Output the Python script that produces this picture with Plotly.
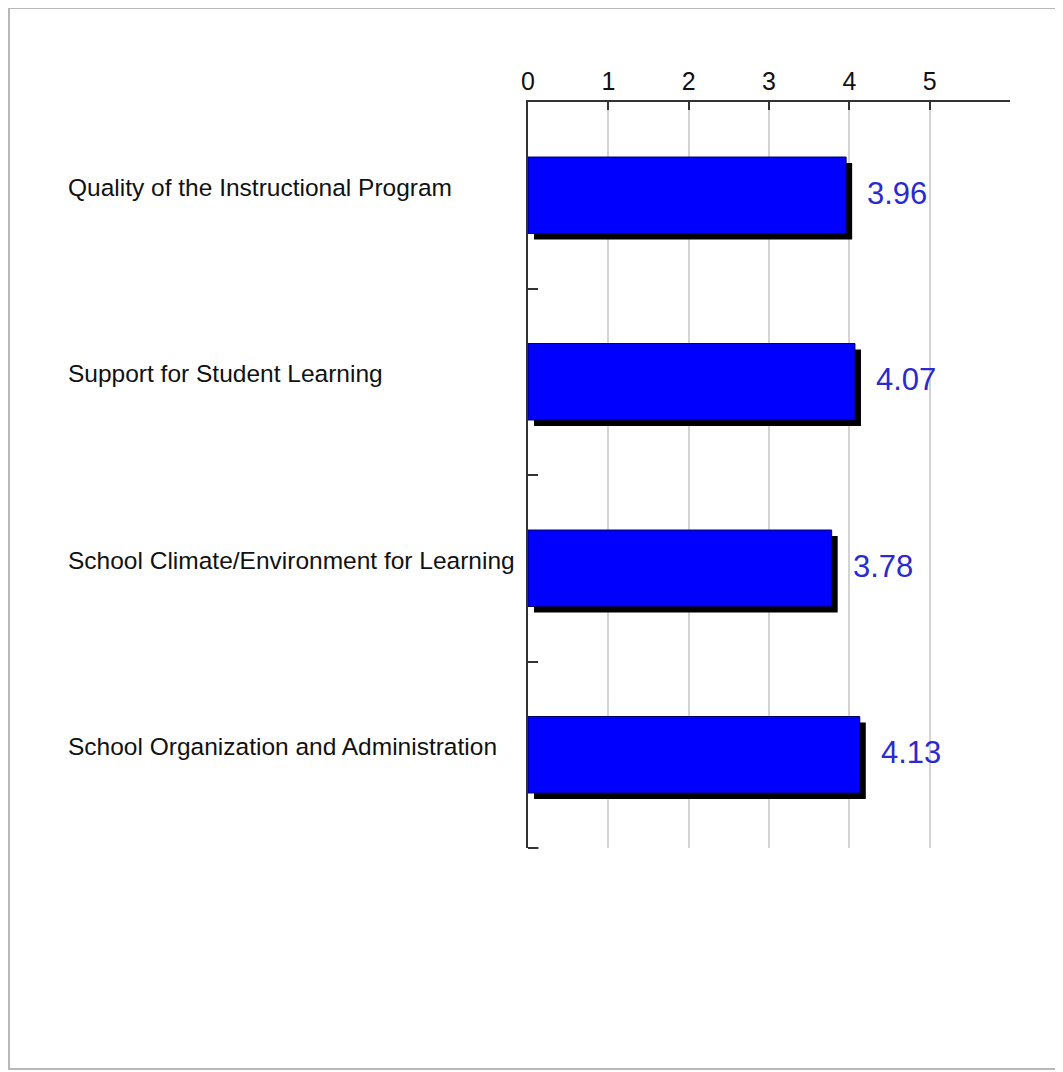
import plotly.graph_objects as go

categories = [
    "Quality of the Instructional Program",
    "Support for Student Learning",
    "School Climate/Environment for Learning",
    "School Organization and Administration",
]
values = [3.96, 4.07, 3.78, 4.13]
value_labels = ["3.96", "4.07", "3.78", "4.13"]
tick_vals = [0, 1, 2, 3, 4, 5]

FONT = "Liberation Sans, Arial, sans-serif"
BAR_W = 0.41
SHADOW_DY = 0.032
SHADOW_DX = 0.075

# page body margin is 8px; plot area in page coords: x 528..1010, y 102..848
L, T = 520, 94
PW = 1010 - 528
PH = 848 - 102
W, H = 1063, 1072

fig = go.Figure()

# shadow
fig.add_trace(go.Bar(
    y=categories, x=values, base=[SHADOW_DX] * len(values), orientation="h",
    width=BAR_W, offset=-BAR_W / 2 + SHADOW_DY,
    marker=dict(color="#000000", line=dict(width=0)),
    hoverinfo="skip", showlegend=False,
))
# main bars
fig.add_trace(go.Bar(
    y=categories, x=values, orientation="h",
    width=BAR_W, offset=-BAR_W / 2,
    marker=dict(color="#0000ff", line=dict(color="#000060", width=1)),
    showlegend=False,
))

annotations = []
for cat, v, lab in zip(categories, values, value_labels):
    annotations.append(dict(
        x=(58 - L) / PW, xref="paper", y=cat, yref="y", text=cat, showarrow=False,
        xanchor="left", yanchor="middle", yshift=8,
        font=dict(family=FONT, size=24.5, color="#111111"),
    ))
    annotations.append(dict(
        x=v, xref="x", y=cat, yref="y", text=lab, showarrow=False,
        xanchor="left", yanchor="middle", xshift=19, yshift=2,
        font=dict(family=FONT, size=31, color="#2a2ad0"),
    ))

fig.update_layout(
    width=W, height=H,
    margin=dict(l=L, r=W - L - PW, t=T, b=H - T - PH),
    paper_bgcolor="white", plot_bgcolor="white",
    barmode="overlay",
    annotations=annotations,
    shapes=[
        dict(
            type="rect", xref="paper", yref="paper",
            x0=(1 - L) / PW, x1=(1062 - L) / PW,
            y0=-(1061 - T - PH) / PH, y1=(T + PH) / PH,
            line=dict(color="#b8b8b8", width=2), layer="below",
        ),
        dict(
            type="line", xref="x", yref="paper",
            x0=0, x1=0.13, y0=0, y1=0,
            line=dict(color="#333333", width=2),
        ),
    ],
    xaxis=dict(
        side="top", range=[0, 6.0], tickvals=tick_vals,
        showgrid=True, gridcolor="#d4d4d4", gridwidth=1.5,
        showline=True, linecolor="#333333", linewidth=2,
        ticks="inside", ticklen=8, tickcolor="#333333", tickwidth=2,
        tickfont=dict(family=FONT, size=25, color="#111111"),
        zeroline=False,
    ),
    yaxis=dict(
        autorange="reversed", showticklabels=False,
        showline=True, linecolor="#333333", linewidth=2,
        ticks="inside", ticklen=10, tickcolor="#333333", tickwidth=2,
        tickson="boundaries", showgrid=False,
    ),
)

fig.write_html("out.html")
